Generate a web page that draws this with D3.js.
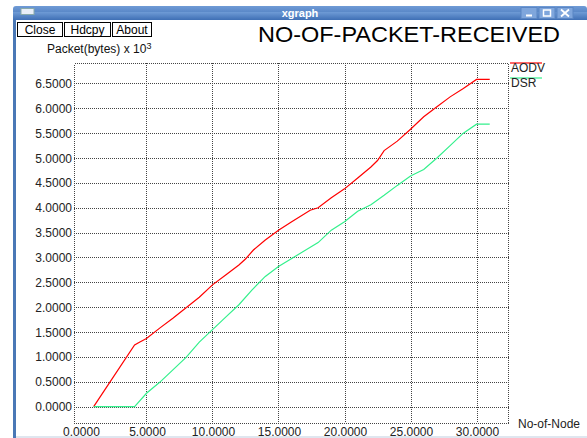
<!DOCTYPE html>
<html><head><meta charset="utf-8">
<script src="https://cdn.jsdelivr.net/npm/d3@7/dist/d3.min.js"></script>
<style>html,body{margin:0;padding:0;background:#fff;overflow:hidden}</style>
</head><body>
<script>
// ---- data ----
const seriesNames = ["AODV", "DSR"];
const aodvX = [1, 4.1, 4.5, 5, 6, 7, 8, 9, 10, 11, 12, 12.5, 13.1, 14, 15, 16, 17.4, 18, 19, 20, 21, 22, 22.5, 23, 24, 25, 26, 27, 28, 29, 30, 31];
const aodvY = [0, 1.24, 1.30, 1.37, 1.58, 1.78, 1.99, 2.20, 2.45, 2.65, 2.85, 2.97, 3.15, 3.35, 3.55, 3.72, 3.95, 4.00, 4.20, 4.38, 4.60, 4.82, 4.95, 5.15, 5.34, 5.58, 5.83, 6.03, 6.23, 6.40, 6.58, 6.58];
const dsrX = [1, 4.1, 5, 6, 7, 8, 9, 10, 11, 12, 13, 14, 15, 16, 17, 18, 19, 20, 21, 22, 23, 24, 25, 26, 27, 28, 29, 30, 31];
const dsrY = [0, 0, 0.27, 0.49, 0.74, 0.99, 1.30, 1.55, 1.80, 2.05, 2.35, 2.62, 2.82, 2.98, 3.14, 3.30, 3.55, 3.72, 3.93, 4.06, 4.25, 4.45, 4.64, 4.77, 5.00, 5.25, 5.50, 5.68, 5.68];
const xTicks = [0, 5, 10, 15, 20, 25, 30];
const yTicks = [0, 0.5, 1, 1.5, 2, 2.5, 3, 3.5, 4, 4.5, 5, 5.5, 6, 6.5];
const title = "NO-OF-PACKET-RECEIVED";
const xLabel = "No-of-Node";
const yLabel = "Packet(bytes) x 10";
const buttons = ["Close", "Hdcpy", "About"];
const seriesColors = ["#ff0000", "#33f08c"];

const W = 587, H = 438;
const svg = d3.select("body").append("svg").attr("width", W).attr("height", H)
  .style("font-family", "'Liberation Sans', Arial, sans-serif");

// window chrome
const defs = svg.append("defs");
const g1 = defs.append("linearGradient").attr("id","tb").attr("x1",0).attr("y1",0).attr("x2",0).attr("y2",1);
g1.append("stop").attr("offset","0").attr("stop-color","#6f9bd6");
g1.append("stop").attr("offset","1").attr("stop-color","#3f6fb5");
svg.append("rect").attr("x",13).attr("y",6).attr("width",W-13).attr("height",14).attr("rx",3).attr("fill","url(#tb)");
svg.append("rect").attr("x",13).attr("y",12).attr("width",W-13).attr("height",8).attr("fill","url(#tb)");
svg.append("rect").attr("x",21).attr("y",8.5).attr("width",13).attr("height",6).attr("fill","#e8eef8").attr("stroke","#8aa","stroke-width",0.5);
svg.append("text").attr("x",300).attr("y",16.5).attr("text-anchor","middle").attr("fill","#fff")
  .attr("font-weight","bold").attr("font-size",11).text("xgraph");
["min","max","close"].forEach((k,i)=>{
  const bx = 521 + i*18;
  svg.append("rect").attr("x",bx).attr("y",7.5).attr("width",16).attr("height",11).attr("fill","#7fa6dc").attr("stroke","#5b86c4");
  if(k==="min") svg.append("rect").attr("x",bx+5).attr("y",14.5).attr("width",6).attr("height",2).attr("fill","#fff");
  if(k==="max") svg.append("rect").attr("x",bx+4.5).attr("y",10).attr("width",7).attr("height",6).attr("fill","none").attr("stroke","#fff").attr("stroke-width",1.5);
  if(k==="close") svg.append("path").attr("d",`M${bx+4},9.5 L${bx+12},16.5 M${bx+12},9.5 L${bx+4},16.5`).attr("stroke","#fff").attr("stroke-width",1.8);
});
svg.append("rect").attr("x",13).attr("y",20).attr("width",3).attr("height",H-20).attr("fill","#4a78b6");
svg.append("rect").attr("x",16).attr("y",H-2).attr("width",W-16).attr("height",2).attr("fill","#dfe6ef");

// buttons
const bxs = [[17,46],[64,47],[112,40]];
buttons.forEach((b,i)=>{
  svg.append("rect").attr("x",bxs[i][0]+0.5).attr("y",22.5).attr("width",bxs[i][1]-1).attr("height",14)
    .attr("fill","#fff").attr("stroke","#000");
  svg.append("text").attr("x",bxs[i][0]+bxs[i][1]/2).attr("y",33.5).attr("text-anchor","middle")
    .attr("font-size",12).attr("fill","#000").text(b);
});

// title
svg.append("text").attr("x",258).attr("y",42).attr("font-size",22).attr("fill","#000")
  .attr("textLength",302).attr("lengthAdjust","spacingAndGlyphs").text(title);

// y label
const yl = svg.append("text").attr("x",47).attr("y",53).attr("font-size",12).attr("fill","#111");
yl.append("tspan").text(yLabel);
yl.append("tspan").attr("dy",-4).attr("font-size",9).text("3");

// scales
const x = d3.scaleLinear().domain([-0.49, 32.46]).range([74, 509]);
const y = d3.scaleLinear().domain([-0.334, 6.905]).range([423.3, 63.3]);

const grid = svg.append("g").attr("stroke","#444").attr("stroke-dasharray","1 1").attr("shape-rendering","crispEdges");
yTicks.forEach(t=>{
  grid.append("line").attr("x1",74).attr("x2",509).attr("y1",Math.round(y(t))+0.5).attr("y2",Math.round(y(t))+0.5);
});
xTicks.filter(t=>t>0).forEach(t=>{
  grid.append("line").attr("y1",63).attr("y2",423).attr("x1",Math.round(x(t))+0.5).attr("x2",Math.round(x(t))+0.5);
});
grid.append("rect").attr("x",74.5).attr("y",63.5).attr("width",434).attr("height",360).attr("fill","none");

// tick labels
const fmt = d3.format(".4f");
yTicks.forEach(t=>{
  svg.append("text").attr("x",72).attr("y",y(t)+4.5).attr("text-anchor","end").attr("font-size",12).attr("fill","#222").text(fmt(t));
});
xTicks.forEach(t=>{
  svg.append("text").attr("x",x(t)+1).attr("y",436).attr("text-anchor","middle").attr("font-size",12).attr("fill","#222").text(fmt(t));
});
svg.append("text").attr("x",518).attr("y",428).attr("font-size",12).attr("fill","#222").text(xLabel);

// lines
const line = d3.line().x(d=>x(d[0])).y(d=>y(d[1]));
const series = [d3.zip(aodvX, aodvY), d3.zip(dsrX, dsrY)];
series.forEach((s,i)=>{
  svg.append("path").datum(s).attr("d",line).attr("fill","none").attr("stroke",seriesColors[i]).attr("stroke-width",1.2);
});

// legend
seriesNames.forEach((n,i)=>{
  const ly = 63 + i*15;
  svg.append("line").attr("x1",510).attr("x2",542).attr("y1",ly).attr("y2",ly).attr("stroke",seriesColors[i]).attr("stroke-width",1.2);
  svg.append("text").attr("x",511).attr("y",ly+9).attr("font-size",12).attr("fill","#222").text(n);
});
</script>
</body></html>
